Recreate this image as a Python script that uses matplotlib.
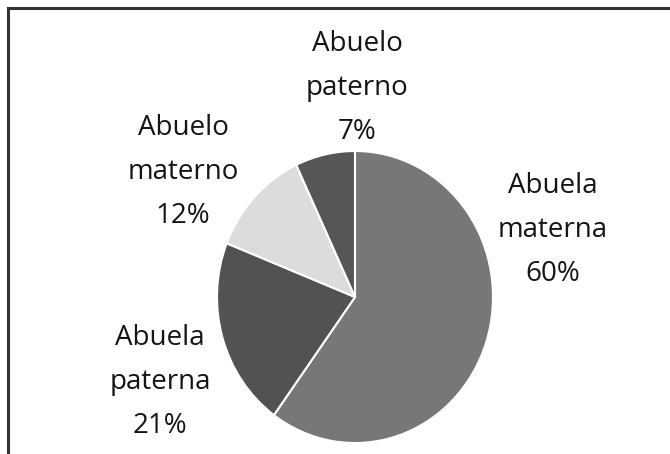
import matplotlib
matplotlib.use('Agg')
import matplotlib.pyplot as plt
from matplotlib.lines import Line2D

labels = ['Abuela\nmaterna', 'Abuela\npaterna', 'Abuelo\nmaterno', 'Abuelo\npaterno']
values = [60, 21, 12, 7]
colors = ['#777777', '#525252', '#dcdcdc', '#565656']
# label centres, figure pixels from top-left
label_pos = [(553, 230), (160, 382), (183, 172), (357, 88)]

W, H = 670, 454
plt.rcParams['font.family'] = ['Open Sans', 'DejaVu Sans']

fig = plt.figure(figsize=(W / 100, H / 100), dpi=100)
cx, cy, rx, ry = 355, 297, 138, 146
ax = fig.add_axes([(cx - rx) / W, (H - cy - ry) / H, 2 * rx / W, 2 * ry / H])
ax.pie(values, colors=colors, startangle=90, counterclock=False,
       wedgeprops=dict(edgecolor='white', linewidth=1.5))
ax.set_aspect('auto')
ax.set_xlim(-1, 1)
ax.set_ylim(-1, 1)
ax.axis('off')

for lab, v, (x, y) in zip(labels, values, label_pos):
    fig.text(x / W, 1 - y / H, f'{lab}\n{v}%', ha='center', va='center',
             fontsize=20, color='#151515', linespacing=1.75)

# frame: only top and left edges are visible
fig.add_artist(Line2D([8 / W, 1], [1 - 8 / H, 1 - 8 / H], color='#333333', lw=2.2))
fig.add_artist(Line2D([8 / W, 8 / W], [0, 1 - 8 / H], color='#333333', lw=2.2))

fig.savefig('out.png', dpi=100)
